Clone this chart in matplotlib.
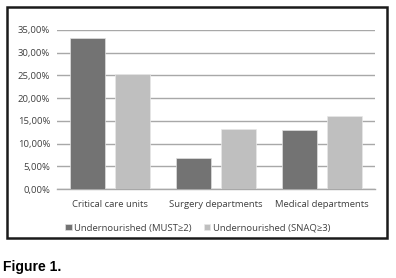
import matplotlib
matplotlib.use("Agg")
import matplotlib.pyplot as plt
from matplotlib.patches import Rectangle
from matplotlib.ticker import FuncFormatter
import numpy as np

categories = ["Critical care units", "Surgery departments", "Medical departments"]
must = [33.3, 6.9, 13.0]
snaq = [25.3, 13.2, 16.0]
series_labels = ["Undernourished (MUST\u22652)", "Undernourished (SNAQ\u22653)"]
yticks = [0, 5, 10, 15, 20, 25, 30, 35]

W, H = 396, 278
fig = plt.figure(figsize=(W / 100, H / 100), dpi=100)
plt.rcParams['font.family'] = ['Open Sans', 'DejaVu Sans']

ax = fig.add_axes([57 / W, 1 - 189 / H, (375 - 57) / W, (189 - 30) / H])
x = np.arange(len(categories))
bw = 0.33
gap = 0.094
ax.bar(x - (bw + gap) / 2, must, bw, color="#737373", edgecolor="#e0e0e0", linewidth=0.5,
       label=series_labels[0], zorder=3)
ax.bar(x + (bw + gap) / 2, snaq, bw, color="#bfbfbf", edgecolor="#e8e8e8", linewidth=0.5,
       label=series_labels[1], zorder=3)
ax.set_xlim(-0.5, 2.5)
ax.set_ylim(0, 35)
ax.set_yticks(yticks)
ax.yaxis.set_major_formatter(FuncFormatter(lambda v, p: f"{v:.2f}%".replace(".", ",")))
ax.set_xticks(x)
ax.set_xticklabels(categories)
ax.tick_params(axis="both", length=0, labelsize=6.8, colors="#404040")
ax.tick_params(axis="x", pad=8)
ax.tick_params(axis="y", pad=5)
ax.yaxis.grid(True, color="#a8a8a8", linewidth=1, zorder=0)
for s in ["top", "right", "left"]:
    ax.spines[s].set_visible(False)
ax.spines["bottom"].set_color("#a8a8a8")
ax.spines["bottom"].set_linewidth(1)

leg = fig.legend(loc="center", bbox_to_anchor=(0.5, 1 - 228 / H), ncol=2, frameon=False,
                 fontsize=6.8, handlelength=0.65, handleheight=0.65, handletextpad=0.3,
                 columnspacing=1.3)
for t in leg.get_texts():
    t.set_color("#404040")

fig.patches.append(Rectangle((7 / W, 1 - 238 / H), (387 - 7) / W, (238 - 7) / H,
                             transform=fig.transFigure, fill=False, edgecolor="#1a1a1a",
                             linewidth=1.8))
fig.text(3 / W, 1 - 267 / H, "Figure 1.", fontsize=10, fontweight="bold",
         family=["Liberation Sans", "DejaVu Sans"], va="center", ha="left")

fig.savefig("out.png", dpi=100)
